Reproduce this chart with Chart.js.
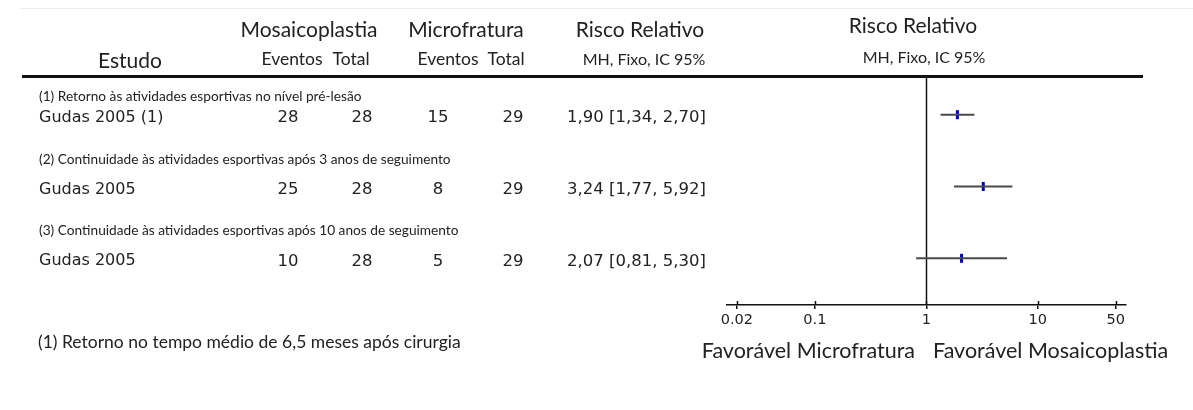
<!DOCTYPE html>
<html>
<head>
<meta charset="utf-8">
<script src="https://cdn.jsdelivr.net/npm/chart.js@4.4.1/dist/chart.umd.min.js"></script>
<style>
    body { margin: 0; background: #fff; }
    #wrap { position: relative; width: 1193px; height: 410px; }
</style>
</head>
<body>
<div id="wrap"><canvas id="forestChart"></canvas></div>
<script>
// Study data
const subgroups = [
    '(1) Retorno às atividades esportivas no nível pré-lesão',
    '(2) Continuidade às atividades esportivas após 3 anos de seguimento',
    '(3) Continuidade às atividades esportivas após 10 anos de seguimento'
];
const studies = ['Gudas 2005 (1)', 'Gudas 2005', 'Gudas 2005'];
const mosaicEvents = [28, 25, 10];
const mosaicTotal = [28, 28, 28];
const microEvents = [15, 8, 5];
const microTotal = [29, 29, 29];
const riskRatio = [1.90, 3.24, 2.07];
const ciLow = [1.34, 1.77, 0.81];
const ciHigh = [2.70, 5.92, 5.30];
const rowPos = [3, 2, 1];
const xTicks = [0.02, 0.1, 1, 10, 50];
const footnote = '(1) Retorno no tempo médio de 6,5 meses após cirurgia';

const GILL = 'Lato, "Open Sans", sans-serif';
const LUCIDA = '"DejaVu Sans", sans-serif';

function fmt(v) {
    return v.toFixed(2).replace('.', ',');
}

function text(ctx, str, x, y, font, align) {
    ctx.font = font;
    ctx.textAlign = align || 'left';
    ctx.textBaseline = 'middle';
    ctx.fillText(str, x, y);
}

// Table, header rules and reference line
const forestTable = {
    id: 'forestTable',
    beforeDatasetsDraw(chart) {
        const ctx = chart.ctx;
        const x = chart.scales.x;
        const area = chart.chartArea;
        ctx.save();
        ctx.strokeStyle = '#111';
        ctx.lineWidth = 1.5;
        const x1 = Math.round(x.getPixelForValue(1)) + 0.5;
        ctx.beginPath();
        ctx.moveTo(x1, area.top - 2);
        ctx.lineTo(x1, area.bottom);
        ctx.stroke();
        // upper half of the tick marks
        x.ticks.forEach(t => {
            const px = Math.round(x.getPixelForValue(t.value)) + 0.5;
            ctx.beginPath();
            ctx.moveTo(px, area.bottom - 4);
            ctx.lineTo(px, area.bottom);
            ctx.stroke();
        });
        ctx.restore();
    },
    afterDraw(chart) {
        const ctx = chart.ctx;
        const y = chart.scales.y;
        ctx.save();
        ctx.fillStyle = '#222';

        // faint top rule
        ctx.strokeStyle = '#ececec';
        ctx.lineWidth = 1;
        ctx.beginPath();
        ctx.moveTo(20, 8.5);
        ctx.lineTo(1193, 8.5);
        ctx.stroke();

        // header
        text(ctx, 'Mosaicoplastia', 309, 30, '21px ' + GILL, 'center');
        text(ctx, 'Microfratura', 466, 30, '21px ' + GILL, 'center');
        text(ctx, 'Risco Relativo', 640, 30, '21px ' + GILL, 'center');
        text(ctx, 'Risco Relativo', 913, 26, '21px ' + GILL, 'center');
        text(ctx, 'Estudo', 130, 61, '21px ' + GILL, 'center');
        text(ctx, 'Eventos', 292, 59, '17.5px ' + GILL, 'center');
        text(ctx, 'Total', 351, 59, '17.5px ' + GILL, 'center');
        text(ctx, 'Eventos', 448, 59, '17.5px ' + GILL, 'center');
        text(ctx, 'Total', 506, 59, '17.5px ' + GILL, 'center');
        text(ctx, 'MH, Fixo, IC 95%', 644, 60, '16px ' + GILL, 'center');
        text(ctx, 'MH, Fixo, IC 95%', 924, 58, '16px ' + GILL, 'center');

        // thick rule under header
        ctx.strokeStyle = '#111';
        ctx.lineWidth = 3;
        ctx.beginPath();
        ctx.moveTo(22, 76.5);
        ctx.lineTo(1143, 76.5);
        ctx.stroke();

        // rows
        const subY = [97, 160, 231];
        for (let i = 0; i < studies.length; i++) {
            const py = y.getPixelForValue(rowPos[i]) + 3;
            text(ctx, subgroups[i], 39, subY[i], '13.7px ' + GILL);
            text(ctx, studies[i], 39, py, '16px ' + LUCIDA);
            text(ctx, String(mosaicEvents[i]), 288, py, '16.5px ' + LUCIDA, 'center');
            text(ctx, String(mosaicTotal[i]), 362, py, '16.5px ' + LUCIDA, 'center');
            text(ctx, String(microEvents[i]), 438, py, '16.5px ' + LUCIDA, 'center');
            text(ctx, String(microTotal[i]), 513, py, '16.5px ' + LUCIDA, 'center');
            text(ctx, fmt(riskRatio[i]) + ' [' + fmt(ciLow[i]) + ', ' + fmt(ciHigh[i]) + ']', 567, py, '16.5px ' + LUCIDA);
        }

        // footer
        text(ctx, footnote, 38, 342, '17.5px ' + GILL);
        text(ctx, 'Favorável Microfratura', 915, 351, '21.5px ' + GILL, 'right');
        text(ctx, 'Favorável Mosaicoplastia', 933, 351, '21.5px ' + GILL, 'left');
        ctx.restore();
    }
};

const ciSets = studies.map((s, i) => ({
    label: s,
    data: [{x: ciLow[i], y: rowPos[i]}, {x: ciHigh[i], y: rowPos[i]}],
    showLine: true,
    borderColor: '#4a4a4a',
    borderWidth: 2,
    pointRadius: 0
}));

const ctx = document.getElementById('forestChart').getContext('2d');
new Chart(ctx, {
    type: 'scatter',
    data: {
        datasets: [
            ...ciSets,
            {
                label: 'Risco Relativo',
                data: riskRatio.map((v, i) => ({x: v, y: rowPos[i]})),
                pointStyle: 'line',
                rotation: 90,
                radius: 4.5,
                borderWidth: 3,
                borderColor: '#0000c0',
                backgroundColor: '#0000c0'
            }
        ]
    },
    options: {
        responsive: true,
        maintainAspectRatio: false,
        animation: false,
        layout: {
            padding: {left: 727, right: 67, top: 79, bottom: 65}
        },
        plugins: {
            legend: {display: false},
            tooltip: {enabled: false}
        },
        scales: {
            x: {
                type: 'logarithmic',
                min: 0.0163,
                max: 61.8,
                afterBuildTicks: scale => {
                    scale.ticks = xTicks.map(v => ({value: v}));
                },
                afterFit: scale => {
                    scale.height = 40;
                },
                ticks: {
                    autoSkip: false,
                    maxRotation: 0,
                    padding: 3,
                    color: '#222',
                    font: {family: 'DejaVu Sans', size: 14.5},
                    callback: value => String(value)
                },
                grid: {
                    drawOnChartArea: false,
                    drawTicks: true,
                    tickLength: 4,
                    color: '#111',
                    lineWidth: 1.5
                },
                border: {display: true, color: '#111', width: 1.5}
            },
            y: {
                display: false,
                min: 0.35,
                max: 3.497
            }
        }
    },
    plugins: [forestTable]
});
</script>
</body>
</html>
